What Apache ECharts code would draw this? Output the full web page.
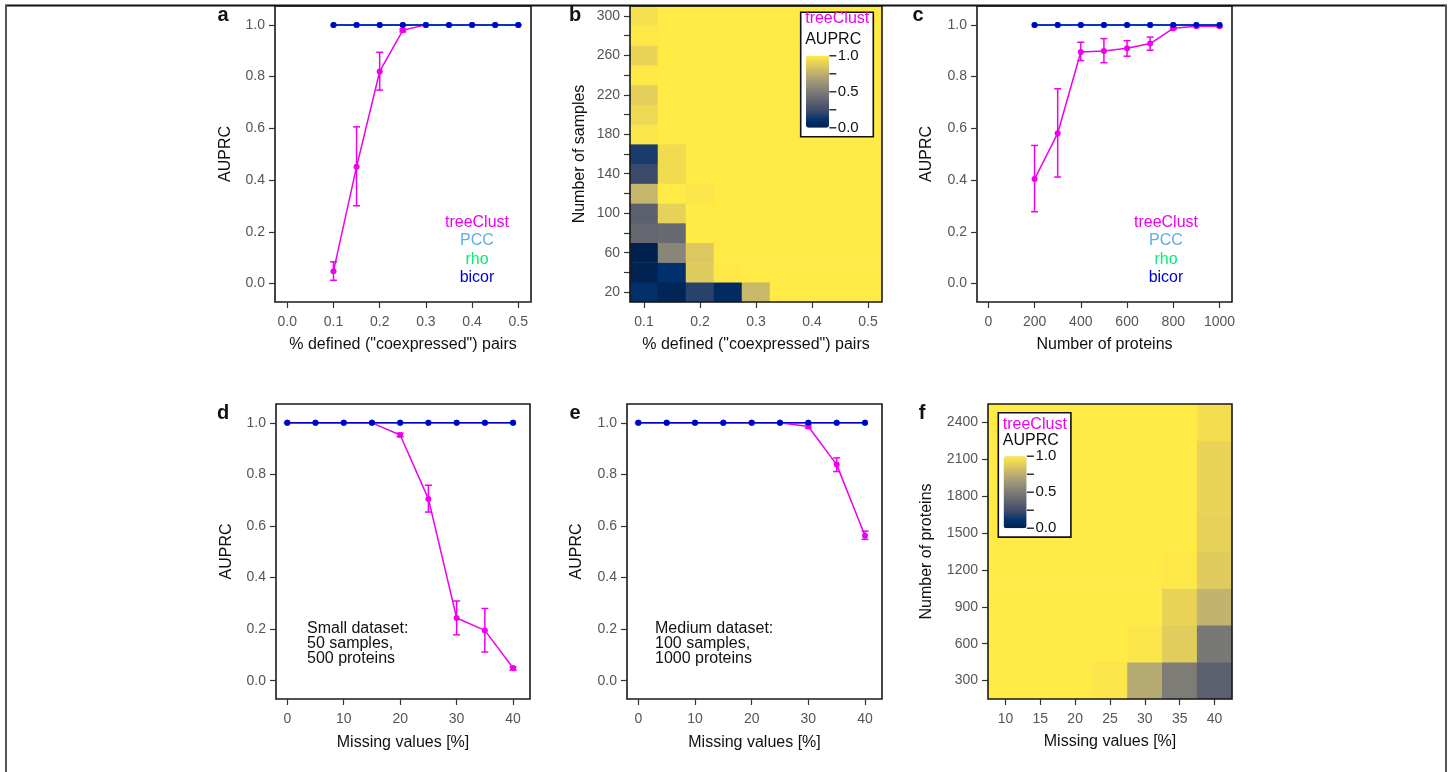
<!DOCTYPE html>
<html><head><meta charset="utf-8">
<script src="https://cdn.jsdelivr.net/npm/echarts@6/dist/echarts.min.js"></script>
<style>html,body{margin:0;padding:0;background:#fff;}#c{width:1452px;height:772px;}</style>
</head><body><div id="c"></div>
<script>
// ---------------- DATA ----------------
const yTicks = [0, 0.2, 0.4, 0.6, 0.8, 1.0];
const cbTicks = ['1.0', '0.5', '0.0'];

// panel a
const aX = [0.1, 0.15, 0.2, 0.25, 0.3, 0.35, 0.4, 0.45, 0.5];
const aTree = [0.048, 0.452, 0.82, 0.979, 1, 1, 1, 1, 1];
const aTreeLo = [0.013, 0.301, 0.748, 0.973, 1, 1, 1, 1, 1];
const aTreeHi = [0.084, 0.606, 0.894, 0.984, 1, 1, 1, 1, 1];
const aPCC = [1, 1, 1, 1, 1, 1, 1, 1, 1];
const aRho = [1, 1, 1, 1, 1, 1, 1, 1, 1];
const aBicor = [1, 1, 1, 1, 1, 1, 1, 1, 1];
const aXTicks = [0, 0.1, 0.2, 0.3, 0.4, 0.5];

// panel b (heatmap): rows = number of samples, cols = % defined pairs
const bCols = ['0.1', '0.15', '0.2', '0.25', '0.3', '0.35', '0.4', '0.45', '0.5'];
const bRows = ['20', '40', '60', '80', '100', '120', '140', '160', '180', '200', '220', '240', '260', '280', '300'];
const bMatrix = [
  [0.09, 0.03, 0.19, 0.07, 0.79, 1, 1, 1, 1],
  [0.02, 0.10, 0.87, 0.99, 1, 1, 1, 1, 1],
  [0.00, 0.55, 0.86, 1, 1, 1, 1, 1, 1],
  [0.39, 0.41, 1, 1, 1, 1, 1, 1, 1],
  [0.35, 0.90, 1, 1, 1, 1, 1, 1, 1],
  [0.78, 1, 0.98, 1, 1, 1, 1, 1, 1],
  [0.23, 0.94, 1, 1, 1, 1, 1, 1, 1],
  [0.16, 0.94, 1, 1, 1, 1, 1, 1, 1],
  [0.98, 1, 1, 1, 1, 1, 1, 1, 1],
  [0.93, 1, 1, 1, 1, 1, 1, 1, 1],
  [0.89, 1, 1, 1, 1, 1, 1, 1, 1],
  [0.99, 1, 1, 1, 1, 1, 1, 1, 1],
  [0.91, 1, 1, 1, 1, 1, 1, 1, 1],
  [0.99, 1, 1, 1, 1, 1, 1, 1, 1],
  [0.96, 1, 1, 1, 1, 1, 1, 1, 1]
];

// panel c
const cX = [200, 300, 400, 500, 600, 700, 800, 900, 1000];
const cTree = [0.404, 0.581, 0.895, 0.899, 0.91, 0.928, 0.987, 0.995, 0.995];
const cTreeLo = [0.278, 0.412, 0.862, 0.854, 0.879, 0.902, 0.983, 0.992, 0.992];
const cTreeHi = [0.534, 0.753, 0.933, 0.947, 0.939, 0.953, 0.991, 0.998, 0.998];
const cPCC = [1, 1, 1, 1, 1, 1, 1, 1, 1];
const cRho = [1, 1, 1, 1, 1, 1, 1, 1, 1];
const cBicor = [1, 1, 1, 1, 1, 1, 1, 1, 1];
const cXTicks = [0, 200, 400, 600, 800, 1000];

// panel d
const dX = [0, 5, 10, 15, 20, 25, 30, 35, 40];
const dTree = [1, 1, 1, 1, 0.953, 0.705, 0.243, 0.195, 0.049];
const dTreeLo = [1, 1, 1, 1, 0.946, 0.654, 0.178, 0.111, 0.041];
const dTreeHi = [1, 1, 1, 1, 0.960, 0.758, 0.309, 0.280, 0.054];
const dPCC = [1, 1, 1, 1, 1, 1, 1, 1, 1];
const dRho = [1, 1, 1, 1, 1, 1, 1, 1, 1];
const dBicor = [1, 1, 1, 1, 1, 1, 1, 1, 1];

// panel e
const eX = [0, 5, 10, 15, 20, 25, 30, 35, 40];
const eTree = [1, 1, 1, 1, 1, 1, 0.986, 0.838, 0.562];
const eTreeLo = [1, 1, 1, 1, 1, 1, 0.980, 0.811, 0.548];
const eTreeHi = [1, 1, 1, 1, 1, 1, 0.992, 0.864, 0.580];
const ePCC = [1, 1, 1, 1, 1, 1, 1, 1, 1];
const eRho = [1, 1, 1, 1, 1, 1, 1, 1, 1];
const eBicor = [1, 1, 1, 1, 1, 1, 1, 1, 1];
const missTicks = [0, 10, 20, 30, 40];

// panel f (heatmap): rows = number of proteins, cols = missing values
const fCols = ['10', '15', '20', '25', '30', '35', '40'];
const fRows = ['300', '600', '900', '1200', '1500', '1800', '2100', '2400'];
const fMatrix = [
  [1, 1, 1, 0.98, 0.72, 0.50, 0.35],
  [1, 1, 1, 1, 0.98, 0.88, 0.48],
  [1, 1, 1, 1, 1, 0.91, 0.77],
  [1, 1, 1, 1, 1, 0.99, 0.87],
  [1, 1, 1, 1, 1, 1, 0.90],
  [1, 1, 1, 1, 1, 1, 0.91],
  [1, 1, 1, 1, 1, 1, 0.91],
  [1, 1, 1, 1, 1, 1, 0.95]
];

const methodNames = ['treeClust', 'PCC', 'rho', 'bicor'];
const dNote = ['Small dataset:', '50 samples,', '500 proteins'];
const eNote = ['Medium dataset:', '100 samples,', '1000 proteins'];

// ---------------- STYLE ----------------
const COL = { treeClust: '#EE00EE', PCC: '#5CACEE', rho: '#00EE76', bicor: '#0000CD' };
const cividis = ['#00204D', '#00336F', '#39486B', '#575C6D', '#707173', '#8A8779', '#A69D75', '#C4B56C', '#E4CF5B', '#FFEA46'];
const FONT = "'Liberation Sans', Arial, Helvetica, sans-serif";
const LABEL_COLOR = '#555555';

const grids = [
  { left: 275, top: 6, width: 256, height: 296 },   // a
  { left: 630, top: 6, width: 252, height: 296 },   // b
  { left: 977, top: 6, width: 255, height: 296 },   // c
  { left: 276, top: 404, width: 254, height: 295 }, // d
  { left: 627, top: 404, width: 255, height: 295 }, // e
  { left: 988, top: 404, width: 244, height: 295 }  // f
].map((g, i) => Object.assign({
  show: true, borderColor: '#1a1a1a', borderWidth: 1.6, backgroundColor: 'transparent',
  containLabel: false, z: (i === 1 || i === 5) ? 2 : 0
}, g));

function tickFmt(dec) { return v => Number(v).toFixed(dec); }

function valueXAxis(idx, min, max, ticks, dec, name, gap) {
  return {
    type: 'value', gridIndex: idx, min, max, name, nameLocation: 'middle', nameGap: gap,
    nameTextStyle: { color: '#111', fontSize: 16, fontFamily: FONT },
    axisLine: { show: false, onZero: false },
    axisTick: { show: true, length: 6, inside: false, customValues: ticks, lineStyle: { color: '#333', width: 1.2 } },
    axisLabel: { customValues: ticks, formatter: tickFmt(dec), color: LABEL_COLOR, fontSize: 14, margin: 13, fontFamily: FONT },
    splitLine: { show: false }
  };
}
function valueYAxis(idx, name, gap) {
  return {
    type: 'value', gridIndex: idx, min: -0.071, max: 1.073, name, nameLocation: 'middle', nameGap: gap,
    nameTextStyle: { color: '#111', fontSize: 16, fontFamily: FONT },
    axisLine: { show: false, onZero: false },
    axisTick: { show: true, length: 6, customValues: yTicks, lineStyle: { color: '#333', width: 1.2 } },
    axisLabel: { customValues: yTicks, formatter: tickFmt(1), color: LABEL_COLOR, fontSize: 14, margin: 10, fontFamily: FONT },
    splitLine: { show: false }
  };
}
function catAxis(type, idx, data, name, gap, labelInt, tickInt) {
  return {
    type: 'category', gridIndex: idx, data, name, nameLocation: 'middle', nameGap: gap,
    nameTextStyle: { color: '#111', fontSize: 16, fontFamily: FONT },
    axisLine: { show: false },
    axisTick: { show: true, length: 6, alignWithLabel: true, interval: tickInt, lineStyle: { color: '#333', width: 1.2 } },
    axisLabel: { interval: labelInt, color: LABEL_COLOR, fontSize: 14, margin: type === 'x' ? 13 : 10, fontFamily: FONT },
    splitLine: { show: false }, splitArea: { show: false }
  };
}

const xAxes = [
  valueXAxis(0, -0.0266, 0.5275, aXTicks, 1, '% defined ("coexpressed") pairs', 35),
  catAxis('x', 1, bCols, '% defined ("coexpressed") pairs', 35, 1, 1),
  valueXAxis(2, -49, 1054, cXTicks, 0, 'Number of proteins', 35),
  valueXAxis(3, -2, 43, missTicks, 0, 'Missing values [%]', 36),
  valueXAxis(4, -2, 43, missTicks, 0, 'Missing values [%]', 36),
  catAxis('x', 5, fCols, 'Missing values [%]', 35, 0, 0)
];
const yAxes = [
  valueYAxis(0, 'AUPRC', 41),
  catAxis('y', 1, bRows, 'Number of samples', 42, 1, 0),
  valueYAxis(2, 'AUPRC', 42),
  valueYAxis(3, 'AUPRC', 41),
  valueYAxis(4, 'AUPRC', 42),
  catAxis('y', 5, fRows, 'Number of proteins', 53, 0, 0)
];

const series = [];
function addLine(idx, xs, ys, color, z) {
  series.push({
    type: 'line', xAxisIndex: idx, yAxisIndex: idx, silent: true, z,
    data: xs.map((x, i) => [x, ys[i]]),
    symbol: 'circle', symbolSize: 6, showSymbol: true,
    lineStyle: { color, width: 1.5 }, itemStyle: { color, borderWidth: 0 }
  });
}
function addErr(idx, xs, lo, hi, color, z) {
  series.push({
    type: 'custom', xAxisIndex: idx, yAxisIndex: idx, silent: true, z,
    data: xs.map((x, i) => [x, lo[i], hi[i]]),
    encode: { x: 0, y: [1, 2] },
    renderItem: function (params, api) {
      const x = api.value(0);
      const p1 = api.coord([x, api.value(1)]);
      const p2 = api.coord([x, api.value(2)]);
      const w = 3.5;
      const st = { stroke: color, lineWidth: 1.5 };
      return {
        type: 'group', children: [
          { type: 'line', shape: { x1: p1[0], y1: p1[1], x2: p2[0], y2: p2[1] }, style: st },
          { type: 'line', shape: { x1: p1[0] - w, y1: p1[1], x2: p1[0] + w, y2: p1[1] }, style: st },
          { type: 'line', shape: { x1: p2[0] - w, y1: p2[1], x2: p2[0] + w, y2: p2[1] }, style: st }
        ]
      };
    }
  });
}
function addPanel(idx, xs, tree, lo, hi, pcc, rho, bicor) {
  addErr(idx, xs, lo, hi, COL.treeClust, 3);
  addLine(idx, xs, tree, COL.treeClust, 3);
  addLine(idx, xs, pcc, COL.PCC, 4);
  addLine(idx, xs, rho, COL.rho, 5);
  addLine(idx, xs, bicor, COL.bicor, 6);
}
addPanel(0, aX, aTree, aTreeLo, aTreeHi, aPCC, aRho, aBicor);
addPanel(2, cX, cTree, cTreeLo, cTreeHi, cPCC, cRho, cBicor);
addPanel(3, dX, dTree, dTreeLo, dTreeHi, dPCC, dRho, dBicor);
addPanel(4, eX, eTree, eTreeLo, eTreeHi, ePCC, eRho, eBicor);

function heatData(matrix) {
  const out = [];
  matrix.forEach((row, r) => row.forEach((v, c) => out.push([c, r, v])));
  return out;
}
const bSeriesIndex = series.length;
series.push({ type: 'heatmap', xAxisIndex: 1, yAxisIndex: 1, data: heatData(bMatrix), silent: true, z: 1, itemStyle: { borderWidth: 0 } });
const fSeriesIndex = series.length;
series.push({ type: 'heatmap', xAxisIndex: 5, yAxisIndex: 5, data: heatData(fMatrix), silent: true, z: 1, itemStyle: { borderWidth: 0 } });

function vmap(seriesIndex, left, top) {
  return {
    type: 'continuous', seriesIndex, min: 0, max: 1, calculable: false, realtime: false,
    inRange: { color: cividis }, left, top, itemWidth: 23, itemHeight: 72, padding: 0,
    orient: 'vertical', z: 4, hoverLink: false
  };
}

// graphic decorations
const graphic = [];
// outer frame
graphic.push({ type: 'line', z: 10, shape: { x1: 5, y1: 5.5, x2: 1447, y2: 5.5 }, style: { stroke: '#111', lineWidth: 2 } });
graphic.push({ type: 'line', z: 10, shape: { x1: 6, y1: 5, x2: 6, y2: 772 }, style: { stroke: '#555', lineWidth: 2 } });
graphic.push({ type: 'line', z: 10, shape: { x1: 1446, y1: 5, x2: 1446, y2: 772 }, style: { stroke: '#555', lineWidth: 2 } });

function txt(x, y, text, opts) {
  graphic.push(Object.assign({
    type: 'text', x, y, z: 5, silent: true,
    style: Object.assign({ text, fill: '#111', font: '16px ' + FONT, align: 'left', verticalAlign: 'middle' }, opts || {})
  }));
}
// panel letters
[['a', 223, 15], ['b', 575, 15], ['c', 918, 15], ['d', 223, 413], ['e', 575, 413], ['f', 922, 413]].forEach(p => {
  txt(p[1], p[2], p[0], { font: 'bold 20px ' + FONT, align: 'center' });
});
// method legends in a and c
function methodLegend(cx, y0) {
  methodNames.forEach((n, i) => txt(cx, y0 + i * 18.4, n, { fill: COL[n], align: 'center' }));
}
methodLegend(477, 222.5);
methodLegend(1166, 222.5);
// notes in d and e
dNote.forEach((t, i) => txt(307, 629 + i * 15, t));
eNote.forEach((t, i) => txt(655, 628.5 + i * 15, t));

// colorbar legend boxes
function cbLegend(x0, y0, t1, t2) {
  graphic.push({ type: 'rect', z: 3, silent: true, shape: { x: x0, y: y0, width: 72.6, height: 124.4 }, style: { fill: '#fff', stroke: '#111', lineWidth: 1.6 } });
  txt(x0 + 4.5, y0 + t1, 'treeClust', { fill: COL.treeClust });
  txt(x0 + 4.5, y0 + t2, 'AUPRC', { fill: '#111' });
  const barX = x0 + 28.6, barTop = y0 + 43.5, barH = 72;
  for (let k = 0; k <= 4; k++) {
    const y = barTop + k * barH / 4;
    graphic.push({ type: 'line', z: 5, silent: true, shape: { x1: barX, y1: y, x2: barX + 7, y2: y }, style: { stroke: '#111', lineWidth: 1.3 } });
  }
  cbTicks.forEach((t, k) => txt(barX + 8.5, barTop + k * barH / 2, t, { font: '15px ' + FONT }));
  return [x0 + 5.3, barTop];
}
const bPos = cbLegend(800.7, 12.3, 6.5, 27);
const fPos = cbLegend(998.3, 412.7, 11.5, 27.8);

const option = {
  animation: false,
  textStyle: { fontFamily: FONT },
  grid: grids,
  xAxis: xAxes,
  yAxis: yAxes,
  visualMap: [vmap(bSeriesIndex, bPos[0], bPos[1]), vmap(fSeriesIndex, fPos[0], fPos[1])],
  series,
  graphic
};
const chart = echarts.init(document.getElementById('c'), null, { renderer: 'canvas' });
chart.setOption(option);
</script>
</body></html>
